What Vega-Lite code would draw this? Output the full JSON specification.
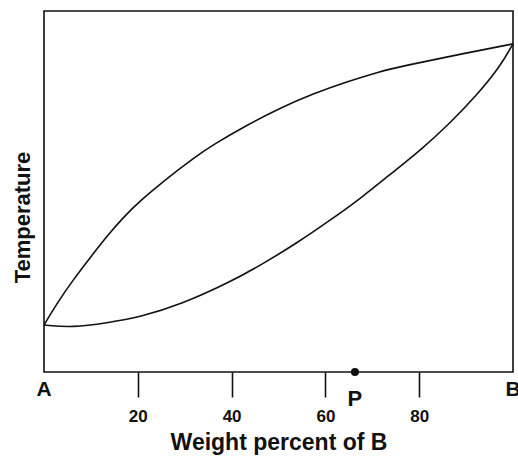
{
  "$schema": "https://vega.github.io/schema/vega-lite/v6.json",
  "description": "Binary phase diagram: liquidus and solidus between A and B.",
  "autosize": "none",
  "width": 469,
  "height": 361,
  "padding": {"left": 44, "top": 11, "right": 5, "bottom": 90},
  "background": "white",
  "datasets": {
    "curves": [
      {"pct": 0, "temp": 13.0, "curve": "liquidus"},
      {"pct": 2.8, "temp": 19.1, "curve": "liquidus"},
      {"pct": 6.2, "temp": 25.5, "curve": "liquidus"},
      {"pct": 9.8, "temp": 31.6, "curve": "liquidus"},
      {"pct": 13.4, "temp": 37.6, "curve": "liquidus"},
      {"pct": 16.8, "temp": 42.7, "curve": "liquidus"},
      {"pct": 20.5, "temp": 47.4, "curve": "liquidus"},
      {"pct": 25.4, "temp": 52.8, "curve": "liquidus"},
      {"pct": 32.6, "temp": 59.9, "curve": "liquidus"},
      {"pct": 36.0, "temp": 62.9, "curve": "liquidus"},
      {"pct": 43.3, "temp": 68.4, "curve": "liquidus"},
      {"pct": 50.3, "temp": 73.1, "curve": "liquidus"},
      {"pct": 57.4, "temp": 77.1, "curve": "liquidus"},
      {"pct": 64.6, "temp": 80.4, "curve": "liquidus"},
      {"pct": 71.6, "temp": 83.2, "curve": "liquidus"},
      {"pct": 75.9, "temp": 84.6, "curve": "liquidus"},
      {"pct": 90.2, "temp": 88.4, "curve": "liquidus"},
      {"pct": 100, "temp": 90.9, "curve": "liquidus"},
      {"pct": 0, "temp": 13.0, "curve": "solidus"},
      {"pct": 6.2, "temp": 12.3, "curve": "solidus"},
      {"pct": 13.4, "temp": 13.6, "curve": "solidus"},
      {"pct": 20.5, "temp": 15.2, "curve": "solidus"},
      {"pct": 29.0, "temp": 18.6, "curve": "solidus"},
      {"pct": 39.7, "temp": 24.9, "curve": "solidus"},
      {"pct": 46.7, "temp": 30.0, "curve": "solidus"},
      {"pct": 53.9, "temp": 35.7, "curve": "solidus"},
      {"pct": 61.0, "temp": 42.0, "curve": "solidus"},
      {"pct": 68.0, "temp": 48.6, "curve": "solidus"},
      {"pct": 73.1, "temp": 54.0, "curve": "solidus"},
      {"pct": 80.8, "temp": 62.0, "curve": "solidus"},
      {"pct": 86.6, "temp": 69.0, "curve": "solidus"},
      {"pct": 92.3, "temp": 76.7, "curve": "solidus"},
      {"pct": 97.2, "temp": 84.5, "curve": "solidus"},
      {"pct": 100, "temp": 90.9, "curve": "solidus"}
    ],
    "marks": [
      {"pct": 0, "label": "A"},
      {"pct": 100, "label": "B"},
      {"pct": 66.3, "label": "P"}
    ]
  },
  "layer": [
    {
      "data": {"name": "curves"},
      "mark": {"type": "line", "interpolate": "basis", "color": "#111", "strokeWidth": 1.6},
      "encoding": {
        "x": {
          "field": "pct",
          "type": "quantitative",
          "scale": {"domain": [0, 100], "nice": false},
          "axis": {
            "values": [20, 40, 60, 80],
            "domain": false,
            "grid": false,
            "tickSize": 25,
            "tickWidth": 1.6,
            "tickColor": "#111",
            "labelFont": "Liberation Sans",
            "labelFontWeight": "bold",
            "labelFontSize": 17,
            "labelColor": "#111",
            "labelPadding": 11,
            "title": "Weight percent of B",
            "titleFont": "Liberation Sans",
            "titleFontWeight": "bold",
            "titleFontSize": 23,
            "titleColor": "#111",
            "titlePadding": 7
          }
        },
        "y": {
          "field": "temp",
          "type": "quantitative",
          "scale": {"domain": [0, 100], "nice": false},
          "axis": {
            "domain": false,
            "ticks": false,
            "labels": false,
            "grid": false,
            "title": "Temperature",
            "titleFont": "Liberation Sans",
            "titleFontWeight": "bold",
            "titleFontSize": 22,
            "titleColor": "#111",
            "titlePadding": 10,
            "titleY": 206
          }
        },
        "detail": {"field": "curve"}
      }
    },
    {
      "data": {"name": "marks"},
      "transform": [{"filter": "datum.label == 'P'"}],
      "mark": {"type": "point", "filled": true, "color": "#111", "size": 64, "opacity": 1},
      "encoding": {
        "x": {"field": "pct", "type": "quantitative"},
        "y": {"datum": 0}
      }
    },
    {
      "data": {"name": "marks"},
      "transform": [{"filter": "datum.label != 'P'"}],
      "mark": {"type": "text", "font": "Liberation Sans", "fontWeight": "bold", "fontSize": 21, "color": "#111", "baseline": "middle", "dy": 18},
      "encoding": {
        "x": {"field": "pct", "type": "quantitative"},
        "y": {"datum": 0},
        "text": {"field": "label"}
      }
    },
    {
      "data": {"name": "marks"},
      "transform": [{"filter": "datum.label == 'P'"}],
      "mark": {"type": "text", "font": "Liberation Sans", "fontWeight": "bold", "fontSize": 22, "color": "#111", "baseline": "middle", "dy": 27},
      "encoding": {
        "x": {"field": "pct", "type": "quantitative"},
        "y": {"datum": 0},
        "text": {"field": "label"}
      }
    }
  ],
  "config": {
    "view": {"stroke": "#111", "strokeWidth": 1.6}
  }
}
